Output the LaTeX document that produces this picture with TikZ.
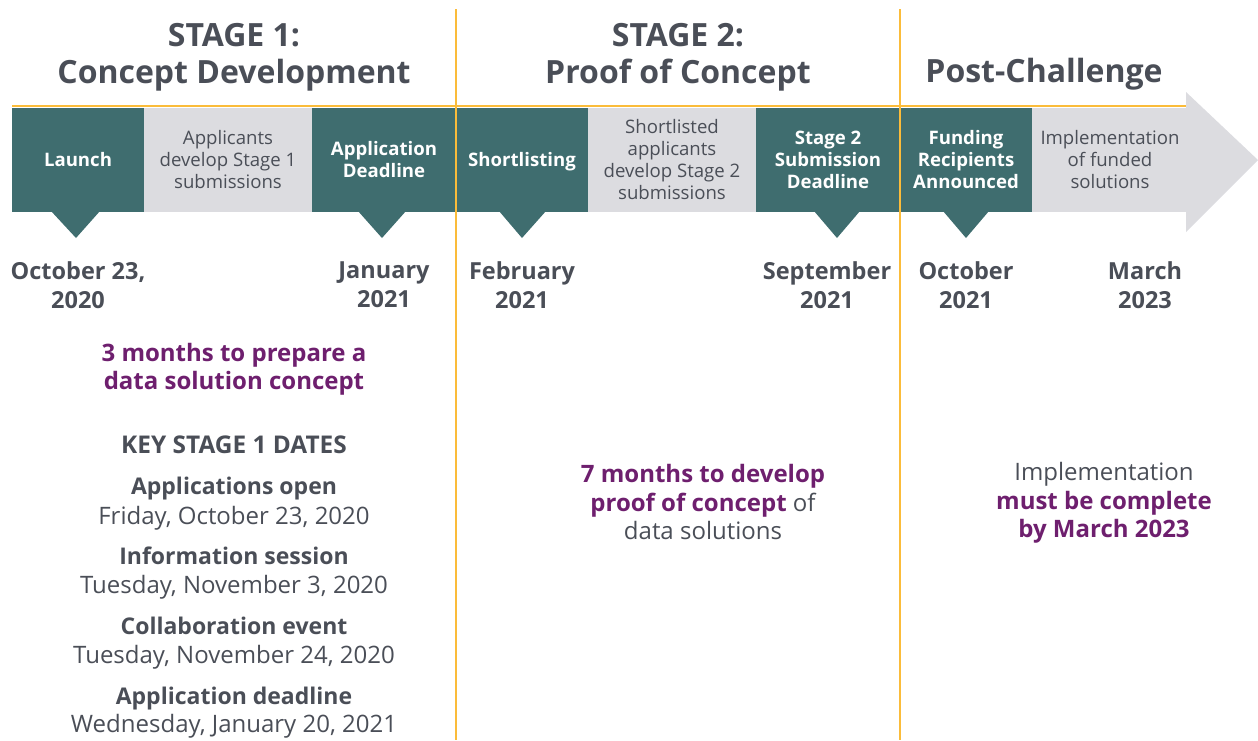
\documentclass[tikz,border=0pt]{standalone}
\usepackage{fontspec}
\setmainfont{Open Sans}
\definecolor{teal}{HTML}{3F6D6F}
\definecolor{lgrey}{HTML}{DCDCE0}
\definecolor{orng}{HTML}{FBBC3A}
\definecolor{purp}{HTML}{6E1F6E}
\definecolor{dtext}{HTML}{4A4E57}
\newcommand{\fs}[2]{\fontsize{#1}{#2}\selectfont}
\tikzset{
  x=1pt, y=-1pt,
  tealbox/.style={fill=teal, draw=none, inner sep=0pt, text=white, align=center, font=\fs{18.6}{22}\bfseries},
  oneline/.style={text height=13.3pt, text depth=0pt},
  greybox/.style={fill=lgrey, draw=none, inner sep=0pt, text=dtext, align=center, font=\fs{18.6}{22}},
  title/.style={text=dtext, align=center, font=\fs{32}{37}\bfseries},
  datelbl/.style={text=dtext, align=center, font=\fs{23.5}{29}\bfseries},
  purptext/.style={text=purp, align=center, font=\fs{24}{28}\bfseries},
  keybold/.style={text=dtext, anchor=base, font=\fs{23}{29}\bfseries},
  keyreg/.style={text=dtext, anchor=base, font=\fs{24}{29}},
  divider/.style={draw=orng, line width=2.6pt},
  pointer/.style={fill=teal, draw=none},
}
\begin{document}
\begin{tikzpicture}
\useasboundingbox (0,0) rectangle (1258,740);
% band boxes
\node[tealbox, oneline, minimum width=132, minimum height=104] (launch) at (78,160) {Launch};
\node[greybox, minimum width=168, minimum height=104] (dev1) at (228,160) {Applicants\\develop Stage 1\\submissions};
\node[tealbox, minimum width=144, minimum height=104] (appdl) at (384,160) {Application\\Deadline};
\node[tealbox, oneline, minimum width=132, minimum height=104] (short) at (522,160) {Shortlisting};
\node[greybox, minimum width=168, minimum height=104] (dev2) at (672,160) {Shortlisted\\applicants\\develop Stage 2\\submissions};
\node[tealbox, minimum width=144, minimum height=104] (s2dl) at (828,160) {Stage 2\\Submission\\Deadline};
\node[tealbox, minimum width=132, minimum height=104] (fund) at (966,160) {Funding\\Recipients\\Announced};
\node[greybox, minimum width=155, minimum height=104, anchor=west] (impl) at (1031.5,160) {};
\fill[lgrey] (1186,92) -- (1258,160) -- (1186,232) -- cycle;
\node[text=dtext, align=center, font=\fs{18.6}{22}] (impltext) at (1110,160) {Implementation\\of funded\\solutions};
% pointers
\fill[pointer] (51,211) -- (100,211) -- (76,238) -- cycle;
\fill[pointer] (358,211) -- (406,211) -- (382,238) -- cycle;
\fill[pointer] (499,211) -- (546,211) -- (522,238) -- cycle;
\fill[pointer] (814,211) -- (860,211) -- (837,238) -- cycle;
\fill[pointer] (943,211) -- (989,211) -- (966,238) -- cycle;
% orange lines
\draw[divider] (12,106) -- (1186,106);
\draw[divider] (456,9) -- (456,740);
\draw[divider] (900,9) -- (900,740);
% titles
\node[title] (t1) at (234,57) {STAGE 1:\\Concept Development};
\node[title] (t2) at (678,57) {STAGE 2:\\Proof of Concept};
\node[title] (t3) at (1044,74) {Post-Challenge};
% dates
\node[datelbl] (d1) at (78,285) {October 23,\\2020};
\node[datelbl] (d2) at (384,285) {January\\2021};
\node[datelbl] (d3) at (522,285) {February\\2021};
\node[datelbl] (d4) at (827,285) {September\\2021};
\node[datelbl] (d5) at (966,285) {October\\2021};
\node[datelbl] (d6) at (1145,285) {March\\2023};
% stage 1 notes
\node[purptext] (p1) at (234,369) {3 months to prepare a\\data solution concept};
\node[keybold, font=\fs{24.4}{29}\bfseries] (k0) at (234,453) {KEY STAGE 1 DATES};
\node[keybold] (k1) at (234,494) {Applications open};
\node[keyreg] (k1d) at (234,524) {Friday, October 23, 2020};
\node[keybold] (k2) at (234,564) {Information session};
\node[keyreg] (k2d) at (234,593) {Tuesday, November 3, 2020};
\node[keybold] (k3) at (234,634) {Collaboration event};
\node[keyreg] (k3d) at (234,663) {Tuesday, November 24, 2020};
\node[keybold] (k4) at (234,704) {Application deadline};
\node[keyreg] (k4d) at (234,732) {Wednesday, January 20, 2021};
% stage 2 note
\node[text=dtext, align=center, font=\fs{24}{28.5}] (p2) at (703,502) {\textcolor{purp}{\bfseries 7 months to develop}\\\textcolor{purp}{\bfseries proof of concept} of\\data solutions};
% post note
\node[text=dtext, align=center, font=\fs{24}{28.5}] (p3) at (1104,503) {Implementation\\\textcolor{purp}{\bfseries must be complete}\\\textcolor{purp}{\bfseries by March 2023}};
\end{tikzpicture}
\end{document}
